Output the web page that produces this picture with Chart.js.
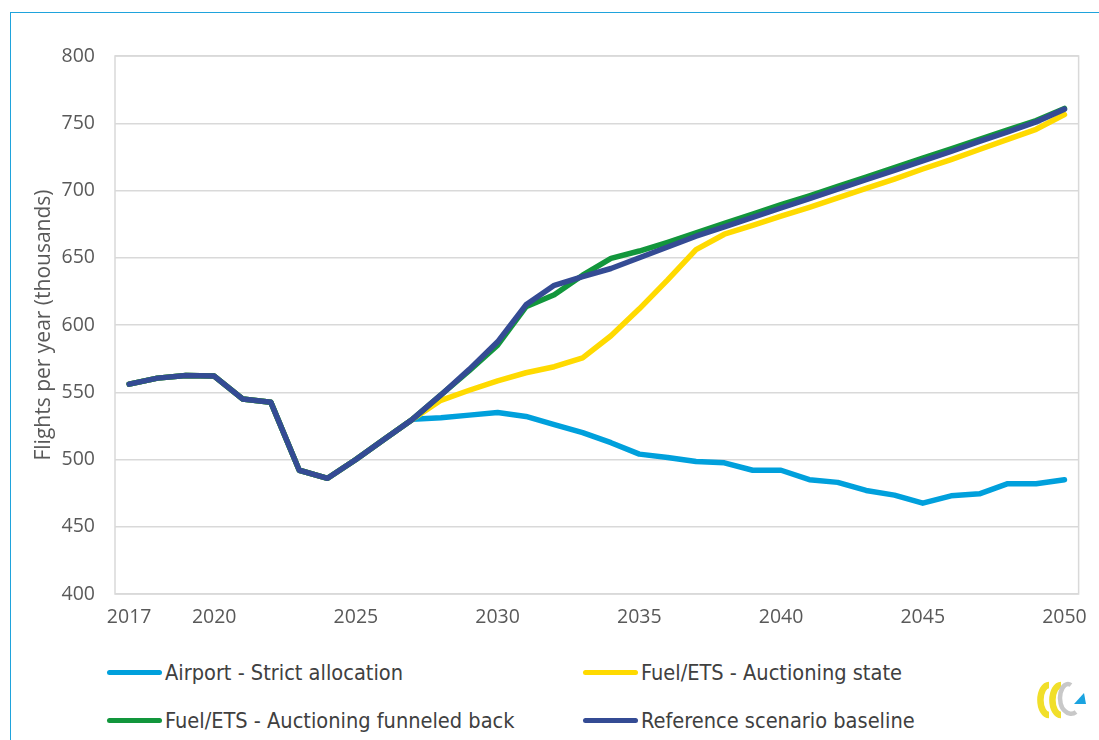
<!DOCTYPE html>
<html>
<head>
<meta charset="utf-8">
<script src="https://cdn.jsdelivr.net/npm/chart.js@4.4.1/dist/chart.umd.min.js"></script>
<style>
  html, body { margin: 0; padding: 0; background: #fff; }
  body { width: 1099px; height: 740px; position: relative; overflow: hidden; }
  #frame { position: absolute; left: 10px; top: 12px; width: 1200px; height: 800px;
           border-left: 1.5px solid #1fa3dc; border-top: 1.5px solid #1fa3dc; box-sizing: border-box; }
  #wrap { position: absolute; left: 0; top: 0; width: 1099px; height: 640px; }
  .leg { position: absolute; height: 24px; display: flex; align-items: center;
         font-family: "DejaVu Sans Condensed", "DejaVu Sans", sans-serif; font-size: 21.6px; color: #404040; white-space: nowrap; }
  .leg .sw { width: 55px; height: 5px; border-radius: 3px; margin-right: 3px; }
  #logo { position: absolute; left: 1034px; top: 680px; }
</style>
</head>
<body>
<div id="frame"></div>
<div id="wrap"><canvas id="c" width="1099" height="640"></canvas></div>
<div id="legend"></div>
<svg id="logo" width="56" height="40" viewBox="0 0 56 40">
  <path d="M15 5 A8 14 0 1 0 15 35" fill="none" stroke="#f1df2a" stroke-width="6.5"/>
  <path d="M27 5 A8 14 0 1 0 27 35" fill="none" stroke="#f1df2a" stroke-width="6.5"/>
  <path d="M37 5 A8 14 0 0 0 31 31 A8 8 0 0 0 42 32" fill="none" stroke="#c8c8c8" stroke-width="4.5"/>
  <polygon points="40,24 52,24 50,13" fill="#1aa3e0"/>
</svg>
<script>
const years = ["2017","2018","2019","2020","2021","2022","2023","2024","2025","2026","2027","2028",
  "2029","2030","2031","2032","2033","2034","2035","2036","2037","2038","2039","2040","2041","2042",
  "2043","2044","2045","2046","2047","2048","2049","2050"];

const airportStrict = [556,560.5,562.5,562,545,542.5,492,486,500,515,530,
  531,533,535,532,526,520,512.5,504,501.5,498.5,497.5,492,492,485,483,477,473.5,467.5,473,474.5,482,482,485];

const fuelAuctionState = [556,560.5,562.5,562,545,542.5,492,486,500,515,530,
  544,551.5,558.5,564.5,569,575.5,592,612,633.5,656,667.5,674,681,687.5,694.5,701.5,708.5,716,723,730.5,738,745.5,756.5];

const fuelFunneledBack = [556,560.5,562.5,562,545,542.5,492,486,500,515,530,
  548,566,585,613.5,622.5,637,649.5,655,661.5,668.5,675.5,682.5,689.5,696,703,710,717,724,731,738,745,752,761];

const referenceBaseline = [556,560.5,562.5,562,545,542.5,492,486,500,515,530,
  548,567,587.5,615,629.5,636,642,650,658,666,673,680,687,694,701,708,715,722,729,736.5,743.5,751,760.5];

const seriesNames = ["Airport - Strict allocation","Fuel/ETS - Auctioning state",
  "Fuel/ETS - Auctioning funneled back","Reference scenario baseline"];
const seriesColors = ["#00a0dc","#ffda00","#12963c","#344b94"];
const yTicks = [400,450,500,550,600,650,700,750,800];
const shownYears = ["2017","2020","2025","2030","2035","2040","2045","2050"];

const seriesData = [airportStrict, fuelAuctionState, fuelFunneledBack, referenceBaseline];
const drawOrder = [3,2,1,0];

const boxPlugin = {
  id: 'box',
  beforeDatasetsDraw(chart) {
    const {ctx, chartArea: a} = chart;
    ctx.save();
    ctx.strokeStyle = '#d9d9d9';
    ctx.lineWidth = 1.5;
    ctx.strokeRect(a.left, a.top, a.right - a.left, a.bottom - a.top);
    ctx.restore();
  }
};

const chart = new Chart(document.getElementById('c'), {
  type: 'line',
  data: {
    labels: years,
    datasets: seriesData.map((d, i) => ({
      label: seriesNames[i],
      data: d,
      borderColor: seriesColors[i],
      backgroundColor: seriesColors[i],
      borderWidth: 5.5,
      pointRadius: 0,
      tension: 0,
      borderCapStyle: 'round',
      borderJoinStyle: 'round',
      fill: false,
      order: drawOrder[i]
    }))
  },
  options: {
    responsive: false,
    animation: false,
    devicePixelRatio: 1,
    layout: { padding: { left: 0, right: 17, top: 56, bottom: 0 } },
    plugins: { legend: { display: false }, tooltip: { enabled: false } },
    scales: {
      x: {
        type: 'category',
        offset: true,
        grid: { display: false, drawTicks: false },
        border: { display: false },
        ticks: {
          autoSkip: false, maxRotation: 0, padding: 12,
          color: '#595959', font: { family: 'Open Sans', size: 19.5 },
          callback: function(v) { const l = this.getLabelForValue(v); return shownYears.includes(l) ? l : ''; }
        },
        afterFit(s) { s.height = 46; }
      },
      y: {
        min: 400, max: 800,
        afterBuildTicks(s) { s.ticks = yTicks.map(v => ({value: v})); },
        grid: { color: '#d9d9d9', lineWidth: 1.5, drawTicks: false },
        border: { display: false },
        ticks: { padding: 20, color: '#595959', font: { family: 'Open Sans', size: 19.5 } },
        title: { display: true, text: 'Flights per year (thousands)', color: '#595959',
                 font: { family: 'Open Sans', size: 21 }, padding: { top: 31, bottom: 0 } },
        afterFit(s) { s.width = 115; }
      }
    }
  },
  plugins: [boxPlugin]
});

const legendPos = [[107,660],[583,660],[107,708],[583,708]];
const legendOrder = [0,1,2,3];
const leg = document.getElementById('legend');
legendOrder.forEach((di, k) => {
  const ds = chart.data.datasets[di];
  const el = document.createElement('div');
  el.className = 'leg';
  el.style.left = legendPos[k][0] + 'px';
  el.style.top = legendPos[k][1] + 'px';
  el.innerHTML = '<span class="sw" style="background:' + ds.borderColor + '"></span><span>' + ds.label + '</span>';
  leg.appendChild(el);
});
</script>
</body>
</html>
